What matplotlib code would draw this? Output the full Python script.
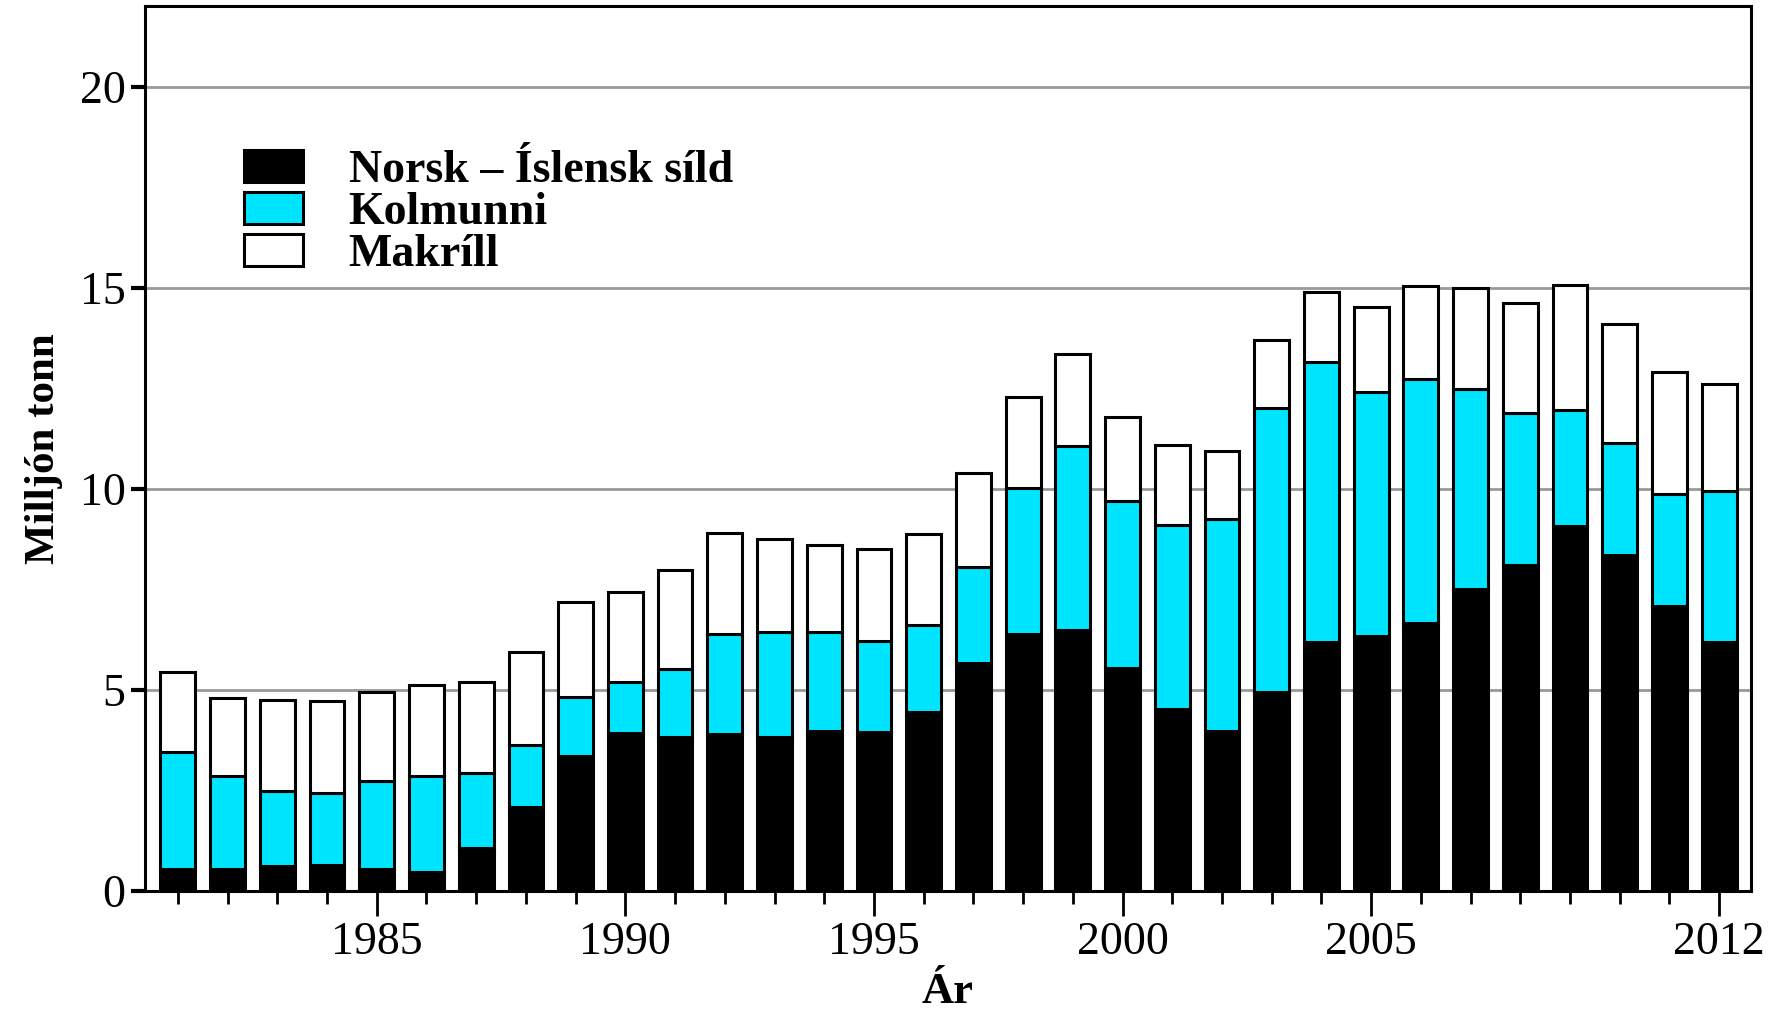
import matplotlib
matplotlib.use("Agg")
import matplotlib.pyplot as plt
from matplotlib.patches import Patch
import numpy as np

years = list(range(1981, 2013))
sild = [0.54, 0.54, 0.62, 0.65, 0.54, 0.48, 1.07, 2.09, 3.36, 3.93, 3.84, 3.90, 3.84, 3.98, 3.95, 4.44,
        5.68, 6.38, 6.50, 5.54, 4.52, 3.98, 4.94, 6.19, 6.33, 6.67, 7.51, 8.11, 9.07, 8.36, 7.09, 6.19]
kolmunni_top = [3.45, 2.85, 2.49, 2.43, 2.74, 2.85, 2.94, 3.64, 4.83, 5.20, 5.51, 6.38, 6.44, 6.44, 6.21, 6.61,
                8.05, 10.03, 11.07, 9.69, 9.10, 9.24, 12.01, 13.16, 12.40, 12.74, 12.49, 11.89, 11.95, 11.13, 9.86, 9.94]
total = [5.45, 4.80, 4.75, 4.72, 4.94, 5.11, 5.20, 5.93, 7.18, 7.43, 7.99, 8.90, 8.76, 8.59, 8.50, 8.87,
         10.40, 12.29, 13.36, 11.78, 11.10, 10.93, 13.70, 14.89, 14.52, 15.03, 15.00, 14.63, 15.06, 14.10, 12.91, 12.60]
kolmunni = [k - s for k, s in zip(kolmunni_top, sild)]
makrill = [t - k for t, k in zip(total, kolmunni_top)]

labels = ["Norsk \u2013 \u00cdslensk s\u00edld", "Kolmunni", "Makr\u00edll"]
colors = ["#000000", "#00e5ff", "#ffffff"]
major_years = [1985, 1990, 1995, 2000, 2005, 2012]
yticks = [0, 5, 10, 15, 20]

plt.rcParams['font.family'] = ['Liberation Serif', 'DejaVu Serif']

fig = plt.figure(figsize=(17.82, 10.13), dpi=100)
ax = fig.add_axes([0.0814, 0.1204, 0.9012, 0.8736])

w = 0.7
lw = 2.2
ax.bar(years, sild, width=w, color=colors[0], edgecolor='black', linewidth=lw, zorder=3)
ax.bar(years, kolmunni, width=w, bottom=sild, color=colors[1], edgecolor='black', linewidth=lw, zorder=3)
ax.bar(years, makrill, width=w, bottom=kolmunni_top, color=colors[2], edgecolor='black', linewidth=lw, zorder=3)

ax.set_xlim(1980.34, 2012.64)
ax.set_ylim(0, 22)
ax.set_yticks(yticks)
ax.set_yticklabels([str(v) for v in yticks], fontsize=33)
ax.set_xticks(major_years)
ax.set_xticklabels([str(v) for v in major_years], fontsize=33)
ax.set_xticks(years, minor=True)
ax.tick_params(axis='x', which='major', direction='out', length=18, width=2, pad=4)
ax.tick_params(axis='x', which='minor', direction='out', length=9, width=2)
ax.tick_params(axis='y', which='major', direction='out', length=10, width=3, pad=4)
ax.yaxis.grid(True, color='#999999', linewidth=2, zorder=0)
ax.set_axisbelow(True)
for s in ax.spines.values():
    s.set_linewidth(2.2)

ax.set_xlabel("\u00c1r", fontsize=32, fontweight='bold', labelpad=6)
ax.set_ylabel("Millj\u00f3n tonn", fontsize=31, fontweight='bold', labelpad=12)

handles = [Patch(facecolor=c, edgecolor='black', linewidth=lw) for c in colors]
leg = ax.legend(handles, labels, loc='upper left', bbox_to_anchor=(0.050, 0.858),
                frameon=False, prop={'family': 'Liberation Serif', 'weight': 'bold', 'size': 33},
                handlelength=1.29, handleheight=0.67, handletextpad=1.0, labelspacing=0.0,
                borderaxespad=0)

fig.savefig("out.png", dpi=100)
